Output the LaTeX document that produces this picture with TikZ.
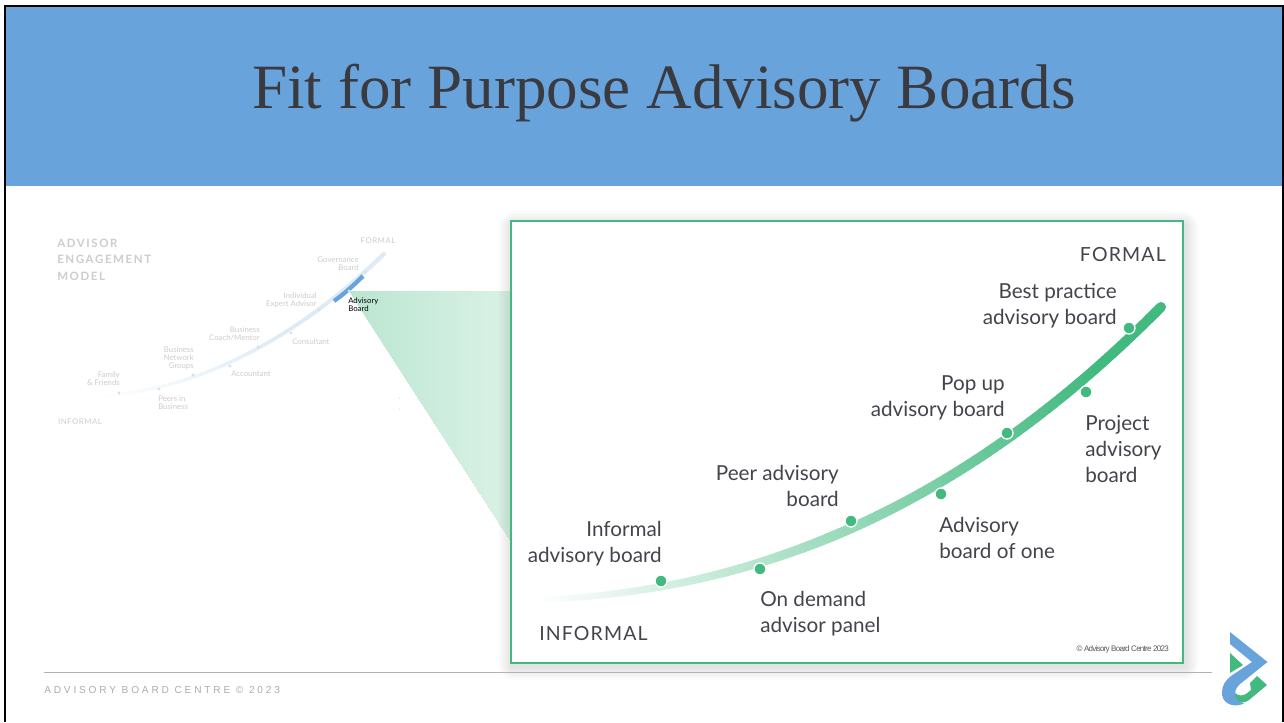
\documentclass[tikz,border=0pt]{standalone}
\usepackage{fontspec}
\setmainfont{Liberation Serif}
\setsansfont{Lato}
\newfontfamily\arialf[LetterSpace=-9]{Liberation Sans}
\newfontfamily\latosp[LetterSpace=6]{Lato}
\newfontfamily\latowide[LetterSpace=14]{Lato}
\newfontfamily\footf[LetterSpace=27.7]{Liberation Sans}
\definecolor{hdr}{HTML}{68A4DB}
\definecolor{grn}{HTML}{41B97F}
\definecolor{ink}{HTML}{44444C}
\definecolor{pale}{HTML}{CDCDD0}
\tikzset{
  biglab/.style={font=\fontsize{15.5}{19.5}\selectfont\sffamily, text=ink, inner sep=0pt, align=#1},
  biglab/.default=left,
  smlab/.style={font=\fontsize{5.85}{6}\selectfont\sffamily, text=pale, inner sep=0pt, align=#1},
  smlab/.default=left,
  dot/.style={circle, fill=grn, draw=white, line width=1pt, minimum size=9pt, inner sep=0pt},
  sdot/.style={circle, fill=hdr!32, minimum size=2.6pt, inner sep=0pt}
}
\begin{document}
\begin{tikzpicture}[x=0.75pt,y=-0.75pt]
\useasboundingbox (0,0) rectangle (1284,722);
\fill[white] (0,0) rectangle (1284,722);
% header
\fill[hdr] (5,6) rectangle (1284,186);
\draw[black,line width=2.2pt] (5,722) -- (5,6) -- (1283,6) -- (1283,722);
\node[font=\fontsize{47.3}{50}\selectfont, text=ink!85!black, inner sep=0pt] (title) at (664,93) {Fit for Purpose Advisory Boards};
% small curve
\foreach \i in {0,...,40}{
  \pgfmathsetmacro\ta{\i/41}
  \pgfmathsetmacro\tb{(\i+1)/41}
  \pgfmathsetmacro\pc{min(100,\i*4)}
  \pgfmathsetmacro\w{2+1.2*\ta}
  \draw[line width=\w pt, line cap=round, color=hdr!22!white!\pc!white]
    ({(1-\ta)^3*95+3*(1-\ta)^2*\ta*200+3*(1-\ta)*\ta^2*300+\ta^3*384},
     {(1-\ta)^3*396+3*(1-\ta)^2*\ta*392+3*(1-\ta)*\ta^2*335+\ta^3*254}) --
    ({(1-\tb)^3*95+3*(1-\tb)^2*\tb*200+3*(1-\tb)*\tb^2*300+\tb^3*384},
     {(1-\tb)^3*396+3*(1-\tb)^2*\tb*392+3*(1-\tb)*\tb^2*335+\tb^3*254});
}
\draw[hdr,line width=3.2pt] (334,301) .. controls (344,294) and (354,285) .. (363,276);
\node[sdot] (sa) at (119,393) {};
\node[sdot] (sb) at (159,389) {};
\node[sdot] (sc) at (193,375) {};
\node[sdot] (sd) at (230,366) {};
\node[sdot] (se) at (258,347) {};
\node[sdot] (sf) at (291,333) {};
\node[sdot] (sg) at (319,310) {};
\node[sdot] (sh) at (349,291) {};
\node[sdot] (si) at (365,272) {};
% small labels
\node[font=\fontsize{8.6}{12.4}\selectfont\latowide\bfseries, text=pale, inner sep=0pt, align=left, anchor=north west] (aem) at (57,238.5) {ADVISOR\\ENGAGEMENT\\MODEL};
\node[font=\fontsize{5.9}{6}\selectfont\latosp, text=pale, inner sep=0pt] (sform) at (378,241) {FORMAL};
\node[font=\fontsize{5.9}{6}\selectfont\latosp, text=pale, inner sep=0pt] (sinf) at (80,422) {INFORMAL};
\node[smlab=right, anchor=east] (l1) at (120,379) {Family\\\& Friends};
\node[smlab=left, anchor=west] (l2) at (158,403) {Peers in\\Business};
\node[smlab=right, anchor=east] (l3) at (194,358) {Business\\Network\\Groups};
\node[smlab=left, anchor=west] (l4) at (231,374) {Accountant};
\node[smlab=right, anchor=east] (l5) at (260,334) {Business\\Coach/Mentor};
\node[smlab=left, anchor=west] (l6) at (292,342) {Consultant};
\node[smlab=right, anchor=east] (l7) at (317,300) {Individual\\Expert Advisor};
\node[smlab=right, anchor=east] (l8) at (359,264) {Governance\\Board};
\fill[pale] (399.5,398) circle (0.5) (399.5,409) circle (0.5);
% cone, painted as overlapping slices so the colour fades to the right
\foreach \i in {0,...,40}{
  \pgfmathsetmacro\xa{349+\i*3.951}
  \pgfmathsetmacro\ya{291+(\xa-349)*1.5432}
  \pgfmathsetmacro\pc{36-\i*0.42}
  \fill[color=grn!\pc!white] (\xa,291) -- (511,291) -- (511,541) -- (\xa,\ya) -- cycle;
}
\node[smlab=left, anchor=west, text=black] (l9) at (348,305) {Advisory\\Board};
% shadow
\foreach \d in {1,...,14}{
  \fill[black,opacity=0.009,rounded corners=\d] ({511-\d+1},{221-\d+4}) rectangle ({1183+\d+2},{663+\d+4});
}
% panel
\draw[grn,line width=1.9pt,fill=white] (511,221) rectangle (1183,663);
% big curve
\foreach \i in {0,...,99}{
  \pgfmathsetmacro\ta{\i/100}
  \pgfmathsetmacro\tb{(\i+1)/100}
  \pgfmathsetmacro\pc{min(100,\ta*112)}
  \pgfmathsetmacro\w{(5.5+4.5*min(1,\ta*2.2))*0.75}
  \draw[line width=\w pt, line cap=round, color=grn!\pc!white]
    ({(1-\ta)^3*535+3*(1-\ta)^2*\ta*760+3*(1-\ta)*\ta^2*965+\ta^3*1161},
     {(1-\ta)^3*600+3*(1-\ta)^2*\ta*592+3*(1-\ta)*\ta^2*505+\ta^3*307}) --
    ({(1-\tb)^3*535+3*(1-\tb)^2*\tb*760+3*(1-\tb)*\tb^2*965+\tb^3*1161},
     {(1-\tb)^3*600+3*(1-\tb)^2*\tb*592+3*(1-\tb)*\tb^2*505+\tb^3*307});
}
% dots
\node[dot] (d1) at (661,581) {};
\node[dot] (d2) at (760,569) {};
\node[dot] (d3) at (851,521) {};
\node[dot] (d4) at (941,494) {};
\node[dot] (d5) at (1007,433) {};
\node[dot] (d6) at (1086,392) {};
\node[dot] (d7) at (1129,328) {};
% big labels
\node[font=\fontsize{14.6}{15}\selectfont\latosp, text=ink, inner sep=0pt, anchor=east] (form) at (1166,255) {FORMAL};
\node[font=\fontsize{14.6}{15}\selectfont\latosp, text=ink, inner sep=0pt, anchor=west] (inf) at (539,634) {INFORMAL};
\node[biglab=right, anchor=east] (b1) at (662,544) {Informal\\advisory board};
\node[biglab=left, anchor=west] (b2) at (760,614) {On demand\\advisor panel};
\node[biglab=right, anchor=east] (b3) at (839,486) {Peer advisory\\board};
\node[biglab=left, anchor=west] (b4) at (939,538) {Advisory\\board of one};
\node[biglab=right, anchor=east] (b5) at (1005,398) {Pop up\\advisory board};
\node[biglab=left, anchor=west] (b6) at (1085,449) {Project\\advisory\\board};
\node[biglab=right, anchor=east] (b7) at (1117,306) {Best practice\\advisory board};
\node[font=\fontsize{6}{7}\selectfont\arialf, text=ink!90, inner sep=0pt, anchor=east] (copy) at (1169,649) {© Advisory Board Centre 2023};
% footer
\draw[black!30,line width=0.7pt] (44,672) -- (1212,672);
\node[font=\fontsize{7.6}{8}\selectfont\footf, text=black!32, inner sep=0pt, anchor=west] (foot) at (44,690) {ADVISORY BOARD CENTRE © 2023};
% logo
\fill[hdr] (1230,632) -- (1267.5,662) -- (1240,684) .. controls (1233,690) and (1233,699) .. (1244,703.5)
  .. controls (1232,709) and (1221,702) .. (1222,692) .. controls (1222,685) and (1226,680) .. (1231,676)
  -- (1252,662) -- (1230,644) -- cycle;
\fill[grn] (1230,653) -- (1243,665) -- (1230,673) -- cycle;
\fill[grn] (1257,676) -- (1267,685) -- (1249,700) .. controls (1242,705) and (1235,702) .. (1235,693)
  .. controls (1238,696) and (1243,696) .. (1246,694) -- (1251,690) -- (1250,683) -- cycle;
\end{tikzpicture}
\end{document}
